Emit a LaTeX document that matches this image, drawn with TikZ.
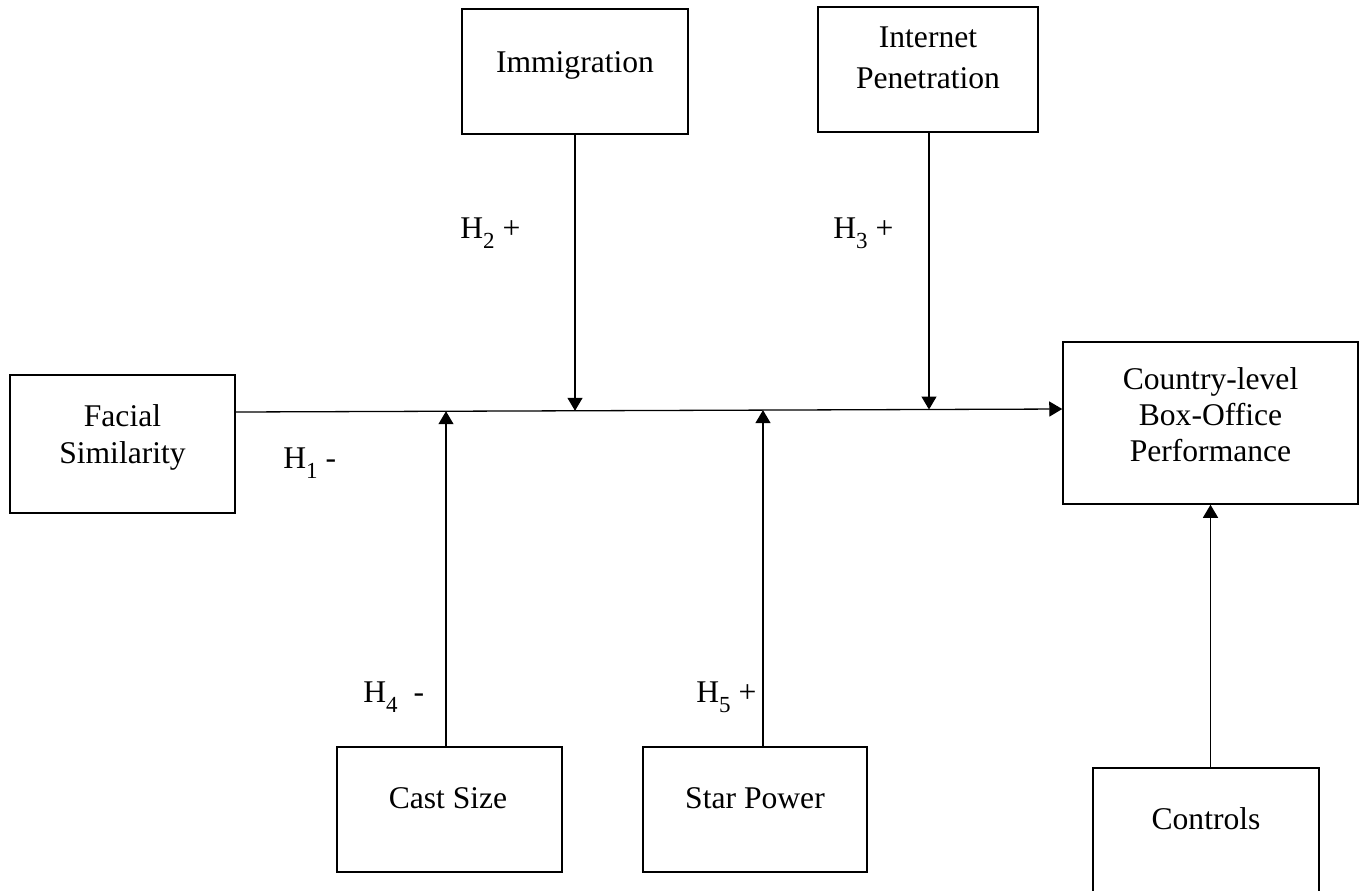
\documentclass[tikz,border=0pt]{standalone}
\usepackage{fontspec}
\setmainfont{Liberation Serif}
\usetikzlibrary{arrows.meta}
\newcommand\hsub[1]{\raisebox{-5pt}{\fontsize{11.5}{12}\selectfont #1}}
\begin{document}
\begin{tikzpicture}[x=0.5pt,y=-0.5pt,
  box/.style={draw, line width=0.75pt, inner sep=0pt, rectangle},
  lbl/.style={font=\fontsize{15.8}{19}\selectfont, inner sep=0pt},
  hyp/.style={font=\fontsize{15.8}{19}\selectfont, inner sep=0pt, anchor=base west},
  arr/.style={line width=0.65pt, -{Triangle[width=7.5pt,length=6.5pt]}}]
\useasboundingbox (0,0) rectangle (1365,890);
\clip (0,0) rectangle (1365,890);
% boxes
\node[box, minimum width=113pt, minimum height=62.5pt] (imm) at (575,71.5) {};
\node[box, minimum width=110pt, minimum height=62.5pt] (int) at (928,69.5) {};
\node[box, minimum width=112.5pt, minimum height=69pt] (fac) at (122.5,444) {};
\node[box, minimum width=147.5pt, minimum height=81pt] (cou) at (1210.5,423) {};
\node[box, minimum width=112.5pt, minimum height=62.5pt] (cast) at (449.5,809.5) {};
\node[box, minimum width=112pt, minimum height=62.5pt] (star) at (755,809.5) {};
\node[box, minimum width=113pt, minimum height=68.5pt] (ctrl) at (1206,836.5) {};
% texts
\node[lbl, anchor=base] (immT) at (575,72) {Immigration};
\node[lbl, anchor=north, align=center, font=\fontsize{15.8}{20.5}\selectfont] (intT) at (928,26) {Internet\\Penetration};
\node[lbl, anchor=north, align=center, font=\fontsize{15.8}{18.5}\selectfont] (facT) at (122.5,404) {Facial\\Similarity};
\node[lbl, anchor=north, align=center, font=\fontsize{15.8}{18}\selectfont] (couT) at (1210.5,367) {Country-level\\Box-Office\\Performance};
\node[lbl, anchor=base] (castT) at (448,808) {Cast Size};
\node[lbl, anchor=base] (starT) at (755,808) {Star Power};
\node[lbl, anchor=base] (ctrlT) at (1206,829) {Controls};
% junction points on the main path
\coordinate (j2) at (575,410.8);
\coordinate (j3) at (929,409.5);
\coordinate (j4) at (446,411.2);
\coordinate (j5) at (763,410.1);
% connectors
\draw[arr] ([yshift=16pt]fac.east) -- ([yshift=7pt]cou.west);
\draw[arr] (imm.south -| j2) -- (j2);
\draw[arr] (int.south -| j3) -- (j3);
\draw[arr] (cast.north -| j4) -- (j4);
\draw[arr] (star.north -| j5) -- (j5);
\draw[arr] (ctrl.north -| cou.south) -- (cou.south);
% hypothesis labels
\node[hyp] (h2) at (460,238) {H\hsub{2} +};
\node[hyp] (h3) at (833,238) {H\hsub{3} +};
\node[hyp] (h1) at (283,468) {H\hsub{1} -};
\node[hyp] (h4) at (363,702) {H\hsub{4}\ \ -};
\node[hyp] (h5) at (696,702) {H\hsub{5} +};
\end{tikzpicture}
\end{document}
